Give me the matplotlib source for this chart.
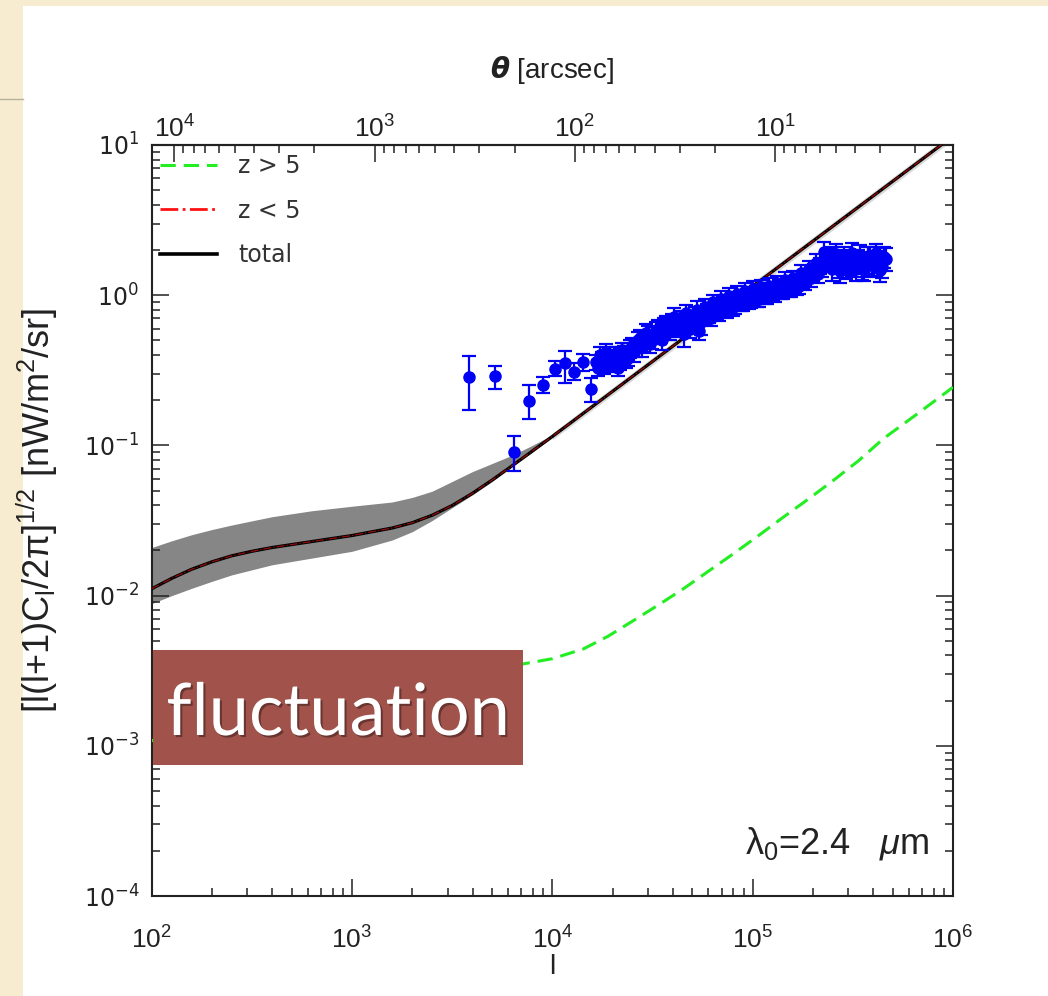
import matplotlib
matplotlib.use('Agg')
import numpy as np
import matplotlib.pyplot as plt
from matplotlib import font_manager
from matplotlib.patches import Rectangle
from matplotlib.lines import Line2D
import matplotlib.patheffects as pe
from matplotlib.ticker import LogLocator, FuncFormatter, NullFormatter, FixedLocator

# ---------------- data ----------------
total_l = [100, 126, 158, 200, 251, 316, 398, 631, 1000, 1585, 1995, 2512, 3162,
           3981, 5012, 6310, 7943, 10000, 12590, 15850, 100000, 1000000]
total_y = [0.0111, 0.01303, 0.01496, 0.01679, 0.01841, 0.01972, 0.02089, 0.02291,
           0.02512, 0.02818, 0.03055, 0.03428, 0.03981, 0.04786, 0.05888, 0.07328,
           0.09162, 0.1148, 0.1442, 0.1816, 1.146, 11.46]

zlt5_l = total_l
zlt5_y = total_y

band_l = [100, 126, 158, 200, 251, 398, 631, 1000, 1585, 1995, 2512, 3162, 3981,
          5012, 6310, 7943, 10000, 12590]
band_hi = [0.0209, 0.02317, 0.02541, 0.02754, 0.02951, 0.0335, 0.03673, 0.03936,
           0.04200, 0.04500, 0.04955, 0.05754, 0.06683, 0.07586, 0.0861, 0.100,
           0.1175, 0.1462]
band_lo = [0.00885, 0.0100, 0.01117, 0.01245, 0.01374, 0.01603, 0.01778, 0.01972,
           0.02344, 0.02661, 0.03162, 0.03846, 0.04677, 0.05754, 0.07244, 0.09016,
           0.1127, 0.1429]

halo_l = [10000, 15850, 100000, 1000000]
halo_hi = [0.121, 0.193, 1.22, 12.2]
halo_lo = [0.109, 0.172, 1.08, 10.8]

zgt5_l = [100, 300, 1000, 3000, 7160, 10000, 14260, 19000, 25360, 34000, 45080,
          60000, 80150, 107000, 142300, 190000, 253000, 339000, 449600, 646000,
          931000, 1000000]
zgt5_y = [0.00108, 0.0017, 0.0024, 0.0030, 0.00351, 0.0038, 0.00441, 0.00537,
          0.00681, 0.0087, 0.0111, 0.0145, 0.019, 0.0251, 0.0333, 0.044, 0.0585,
          0.0794, 0.111, 0.158, 0.227, 0.244]

iso_l = [3852, 5176, 6440, 7670, 9020, 10310, 11570, 12880, 14190, 15560]
iso_y = [0.285, 0.288, 0.0902, 0.197, 0.254, 0.325, 0.351, 0.308, 0.359, 0.239]
iso_lo = [0.173, 0.239, 0.0674, 0.149, 0.222, 0.290, 0.262, 0.271, 0.313, 0.194]
iso_hi = [0.394, 0.336, 0.115, 0.251, 0.285, 0.362, 0.425, 0.352, 0.404, 0.279]

clu_l = [16500, 17300, 18100, 19000, 19900, 20800, 21800, 22800, 23900, 25000,
         26200, 27400, 28700, 30000, 31400, 32900, 34400, 36000, 37700, 39500,
         41300, 43200, 45200, 47300, 49500, 51800, 54200, 56700, 59400, 62200,
         65100, 68100, 71300, 74600, 78100, 81700, 85500, 89500, 93700, 98100,
         102700, 107500, 112500, 117700, 123200, 129000, 135000, 141300, 147900,
         154800, 162000, 169600, 177500, 185800, 194500, 203500, 213000, 223000,
         233400, 244300, 255700, 267600, 280100, 293200, 306900, 321200, 336200,
         351900, 368300, 385500, 403500, 422300, 442000, 462600]
clu_y = [0.36, 0.40, 0.34, 0.38, 0.35, 0.39, 0.36, 0.41, 0.38, 0.46,
         0.44, 0.52, 0.48, 0.55, 0.50, 0.58, 0.53, 0.62, 0.57, 0.66,
         0.60, 0.70, 0.55, 0.68, 0.63, 0.74, 0.58, 0.72, 0.78, 0.70,
         0.82, 0.76, 0.86, 0.80, 0.90, 0.85, 0.93, 0.88, 0.97, 0.92,
         1.00, 0.95, 1.04, 0.98, 1.08, 1.02, 1.12, 1.06, 1.15,
         1.10, 1.20, 1.16, 1.28, 1.35, 1.30, 1.45, 1.38, 1.55,
         1.62, 1.85, 1.70, 1.60, 1.75, 1.55, 1.68, 1.58, 1.72,
         1.52, 1.65, 1.78, 1.60, 1.70, 1.55, 1.75]
clu_err = [0.04, 0.05, 0.04, 0.05, 0.04, 0.06, 0.04, 0.05, 0.04, 0.06,
           0.05, 0.07, 0.06, 0.07, 0.06, 0.08, 0.06, 0.08, 0.07, 0.09,
           0.07, 0.09, 0.10, 0.08, 0.07, 0.09, 0.08, 0.09, 0.10, 0.08,
           0.10, 0.09, 0.11, 0.09, 0.11, 0.10, 0.11, 0.10, 0.12, 0.10,
           0.12, 0.11, 0.13, 0.11, 0.13, 0.12, 0.14, 0.12, 0.14,
           0.13, 0.15, 0.14, 0.16, 0.15, 0.17, 0.16, 0.18, 0.22,
           0.20, 0.25, 0.28, 0.30, 0.26, 0.27, 0.28, 0.26, 0.28,
           0.25, 0.27, 0.30, 0.26, 0.28, 0.25, 0.30]

clu2_l = [16900, 17700, 18600, 19500, 20400, 21300, 22300, 23400, 24500,
          25600, 26800, 28100, 29400, 30700, 32100, 33600, 35200, 36800,
          38600, 40400, 42200, 44200, 46300, 48400, 50700, 53000,
          55500, 58100, 60800, 63600, 66600, 69700, 73000, 76400,
          79900, 83600, 87500, 91600, 95900, 100400, 105100, 110000, 115100, 120500,
          126100, 132000, 138100, 144600, 151300, 158400, 165800,
          173500, 181600, 190100, 199000, 208200, 217900, 228100, 238700,
          249900, 261500, 273700, 286500, 299900, 313900, 328500, 343800,
          359800, 376600, 394200, 412500, 431800, 452000]
clu2_y = [0.33, 0.37, 0.42, 0.35, 0.40, 0.33, 0.43, 0.37, 0.44,
          0.42, 0.50, 0.45, 0.56, 0.47, 0.54, 0.60, 0.50, 0.64,
          0.58, 0.72, 0.62, 0.66, 0.76, 0.60, 0.69, 0.80,
          0.66, 0.84, 0.74, 0.90, 0.78, 0.95, 0.82, 0.99,
          0.84, 1.02, 0.90, 1.07, 0.93, 1.10, 0.96, 1.13, 1.00, 1.16,
          1.04, 1.20, 1.08, 1.26, 1.12, 1.30, 1.15,
          1.40, 1.25, 1.50, 1.42, 1.65, 1.58, 1.95, 1.78,
          1.50, 1.88, 1.45, 1.80, 1.62, 1.92, 1.50, 1.85,
          1.48, 1.82, 1.58, 1.90, 1.47, 1.80]
clu2_err = [0.04, 0.05, 0.05, 0.04, 0.05, 0.04, 0.05, 0.04, 0.06,
            0.06, 0.07, 0.06, 0.08, 0.06, 0.07, 0.08, 0.07, 0.09,
            0.08, 0.10, 0.08, 0.09, 0.10, 0.08, 0.09, 0.11,
            0.12, 0.10, 0.09, 0.11, 0.10, 0.12, 0.10, 0.12,
            0.11, 0.13, 0.11, 0.13, 0.12, 0.14, 0.12, 0.14, 0.13, 0.15,
            0.13, 0.15, 0.14, 0.16, 0.14, 0.16, 0.15,
            0.18, 0.16, 0.19, 0.18, 0.22, 0.20, 0.30, 0.25,
            0.25, 0.30, 0.24, 0.28, 0.26, 0.32, 0.25, 0.30,
            0.24, 0.28, 0.26, 0.30, 0.24, 0.28]

theta_ticks = [1e4, 1e3, 1e2, 1e1]

# ---------------- fonts ----------------
names = {f.name for f in font_manager.fontManager.ttflist}
NARROW = 'Liberation Sans Narrow' if 'Liberation Sans Narrow' in names else 'Liberation Sans'
ROUND = 'DejaVu Sans'
BOXFONT = 'Lato' if 'Lato' in names else 'DejaVu Sans'

plt.rcParams['font.family'] = [NARROW, 'DejaVu Sans']
plt.rcParams['mathtext.fontset'] = 'custom'
plt.rcParams['mathtext.rm'] = NARROW
plt.rcParams['mathtext.it'] = NARROW + ':italic'
plt.rcParams['mathtext.bf'] = NARROW + ':bold'
plt.rcParams['mathtext.sf'] = ROUND
plt.rcParams['axes.unicode_minus'] = True

W, H = 1048, 996
INK = '#222222'
fig = plt.figure(figsize=(W / 100, H / 100), dpi=100, facecolor='#F7ECD0')

# white slide panel (behind the axes)
fig.patches.append(Rectangle((23 / W, 0), 1 - 23 / W, 1 - 6 / H, transform=fig.transFigure,
                             facecolor='white', edgecolor='none', zorder=-5))
fig.lines.append(Line2D([0, 23 / W], [1 - 99 / H, 1 - 99 / H], transform=fig.transFigure,
                        color='#b5b0a0', lw=1.0, zorder=-4))

ax = fig.add_axes([151.7 / W, 1 - 896 / H, (953 - 151.7) / W, (896 - 145) / H])
ax.set_facecolor('white')
ax.set_xscale('log')
ax.set_yscale('log')
ax.set_xlim(1e2, 1e6)
ax.set_ylim(1e-4, 1e1)

# model curves
ax.fill_between(halo_l, halo_lo, halo_hi, color='#d8d8d8', lw=0, zorder=1)
ax.fill_between(band_l, band_lo, band_hi, color='#868686', lw=0, zorder=1)
ax.plot(zgt5_l, zgt5_y, color='#22ee22', lw=2.2, ls=(0, (5, 2.6)), zorder=3)
ax.plot(total_l, total_y, color='black', lw=2.3, zorder=3)
ax.plot(zlt5_l, zlt5_y, color='#ff1010', lw=0.9, ls='-.', alpha=0.6, zorder=4)

# data points
iso_err = [np.array(iso_y) - np.array(iso_lo), np.array(iso_hi) - np.array(iso_y)]
kw = dict(fmt='o', color='#0000f5', ms=8, elinewidth=1.6, capsize=5, capthick=1.6, zorder=5)
ax.errorbar(iso_l, iso_y, yerr=iso_err, **kw)
ax.errorbar(clu_l, clu_y, yerr=clu_err, **kw)
ax.errorbar(clu2_l, clu2_y, yerr=clu2_err, **kw)

# ticks
ax.xaxis.set_major_locator(LogLocator(base=10, numticks=10))
ax.xaxis.set_minor_locator(LogLocator(base=10, subs=np.arange(2, 10), numticks=20))
ax.yaxis.set_major_locator(LogLocator(base=10, numticks=10))
ax.yaxis.set_minor_locator(LogLocator(base=10, subs=np.arange(2, 10), numticks=20))
ax.xaxis.set_minor_formatter(NullFormatter())
ax.yaxis.set_minor_formatter(NullFormatter())
ax.yaxis.set_major_formatter(FuncFormatter(
    lambda v, p: r'$\mathsf{10^{%d}}$' % int(round(np.log10(v)))))
ax.tick_params(which='both', direction='in', top=False, right=True, color=INK)
ax.tick_params(which='major', length=12, width=1.1)
ax.tick_params(which='minor', length=6, width=1.1)
ax.tick_params(axis='x', labelsize=19, pad=22, labelcolor=INK)
ax.tick_params(axis='y', labelsize=17, pad=9, labelcolor=INK)
for s in ax.spines.values():
    s.set_linewidth(1.5)
    s.set_color(INK)

conv = 1296000.0
sec = ax.secondary_xaxis('top', functions=(lambda l: conv / np.asarray(l, float),
                                           lambda t: conv / np.asarray(t, float)))
sec.xaxis.set_major_locator(FixedLocator(theta_ticks))
sec.xaxis.set_minor_locator(LogLocator(base=10, subs=np.arange(2, 10), numticks=20))
sec.xaxis.set_minor_formatter(NullFormatter())
sec.tick_params(which='both', direction='in', color=INK)
sec.tick_params(which='major', length=12, width=1.1, labelsize=19, pad=2, labelcolor=INK)
sec.tick_params(which='minor', length=6, width=1.1)
for s in sec.spines.values():
    s.set_linewidth(1.5)
    s.set_color(INK)
sec.set_xlabel(r'$\boldsymbol{\theta}$ [arcsec]', fontsize=20, labelpad=27, color=INK)

ax.set_xlabel('l', fontsize=20, labelpad=0, color=INK)
ax.set_ylabel(r'[l(l+1)C$_\mathrm{l}$/2$\mathrm{\pi}$]$^{1/2}$ [nW/m$^2$/sr]',
              fontsize=26, color=INK)
ax.yaxis.set_label_coords(-0.115, 0.514)

ax.text(0.971, 0.057, r'$\mathrm{\lambda_0}$=2.4   $\mu$m', transform=ax.transAxes,
        ha='right', va='baseline', fontsize=26, color=INK)

handles = [Line2D([], [], color='#22ee22', lw=2.2, ls=(0, (5, 2.6))),
           Line2D([], [], color='#ff1010', lw=2.0, ls='-.'),
           Line2D([], [], color='black', lw=2.6)]
leg = ax.legend(handles=handles, labels=['z > 5', 'z < 5', 'total'],
                loc='upper left', bbox_to_anchor=(0.0104, 0.988), borderaxespad=0,
                borderpad=0, frameon=False, handlelength=2.4, handletextpad=0.9,
                labelspacing=0.87, prop={'family': ROUND, 'size': 17})
for t in leg.get_texts():
    t.set_color('#333333')

# title overlay box
fig.patches.append(Rectangle((153.3 / W, 1 - 765 / H), (522.7 - 153.3) / W, 115 / H,
                             transform=fig.transFigure, facecolor='#A0524B',
                             edgecolor='none', zorder=10))
fig.text(338 / W, 1 - 735 / H, 'fluctuation', ha='center', va='baseline',
         fontsize=52, color='white', family=BOXFONT, zorder=11,
         path_effects=[pe.withSimplePatchShadow(offset=(1.5, -1.5), shadow_rgbFace='black', alpha=0.35)])

fig.savefig('out.png', dpi=100, facecolor=fig.get_facecolor())
